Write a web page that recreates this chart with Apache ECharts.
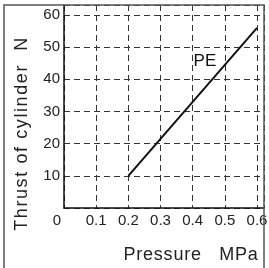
<!DOCTYPE html>
<html>
<head>
<meta charset="utf-8">
<script src="https://cdn.jsdelivr.net/npm/echarts@6/dist/echarts.min.js"></script>
<style>
  html, body { margin: 0; padding: 0; background: #fff; }
  #chart { width: 269px; height: 268px; }
</style>
</head>
<body>
<div id="chart"></div>
<script>
// data
let pressure = [0.2, 0.6];
let thrust = [10, 56];
let xTicks = [0, 0.1, 0.2, 0.3, 0.4, 0.5, 0.6];
let yTicks = [0, 10, 20, 30, 40, 50, 60];
let peLabelAt = [0.438, 45.7];
let xTitle = "Pressure   MPa";
let yTitle = "Thrust of cylinder  N";

let myChart = echarts.init(document.getElementById("chart"));
let font = "'Liberation Sans', Arial, sans-serif";
let gridLine = { lineStyle: { color: "#333", width: 1, type: [6, 4] } };

// the original text is set with wide letter spacing, fake it with rich tokens
let spaced = (str) => str.split("").map((c) => "{c|" + c + "}").join("");
let charStyle = (gap) => ({
  c: { fontFamily: font, fontSize: 18, color: "#222", padding: [0, gap, 0, 0] },
});

let option = {
  animation: false,
  grid: { left: 64, right: 5, top: 5, bottom: 60, outerBoundsMode: "none" },
  graphic: [
    {
      type: "rect",
      shape: { x: 4, y: 5, width: 260, height: 290 },
      style: { fill: "none", stroke: "#555", lineWidth: 1.5 },
      z: 100,
    },
  ],
  xAxis: {
    type: "value",
    min: 0,
    max: 0.6217,
    interval: 0.1,
    name: spaced(xTitle),
    nameLocation: "middle",
    nameGap: 38,
    nameTextStyle: { padding: [0, 0, 0, 54], rich: charStyle(0.8) },
    axisLine: { lineStyle: { color: "#111", width: 1.5 } },
    axisTick: { show: false },
    splitLine: gridLine,
    axisLabel: {
      showMaxLabel: false,
      margin: 5,
      fontFamily: font,
      fontSize: 15,
      color: "#222",
      formatter: (v) => {
        if (v === 0) return "{o|0}";
        return xTicks.indexOf(Math.round(v * 10) / 10) >= 0 ? v.toFixed(1) : "";
      },
      rich: { o: { fontFamily: font, fontSize: 15, color: "#222", padding: [0, 14, 0, 0] } },
    },
  },
  yAxis: {
    type: "value",
    min: 0,
    max: 63.1,
    interval: 10,
    name: spaced(yTitle),
    nameLocation: "middle",
    nameGap: 33,
    nameTextStyle: { padding: [0, 54, 0, 0], rich: charStyle(1.6) },
    axisLine: { lineStyle: { color: "#111", width: 1.5 } },
    axisTick: { show: false },
    splitLine: gridLine,
    axisLabel: {
      showMinLabel: false,
      showMaxLabel: false,
      margin: 4,
      fontFamily: font,
      fontSize: 15,
      color: "#222",
      formatter: (v) => (yTicks.indexOf(v) >= 0 ? String(v) : ""),
    },
  },
  series: [
    {
      type: "line",
      data: pressure.map((p, i) => [p, thrust[i]]),
      showSymbol: false,
      lineStyle: { color: "#111", width: 2 },
      markPoint: {
        symbol: "circle",
        symbolSize: 0,
        data: [{ coord: peLabelAt }],
        label: {
          show: true,
          position: "inside",
          formatter: "PE",
          fontFamily: font,
          fontSize: 17,
          color: "#111",
        },
      },
    },
  ],
};
myChart.setOption(option);
</script>
</body>
</html>
